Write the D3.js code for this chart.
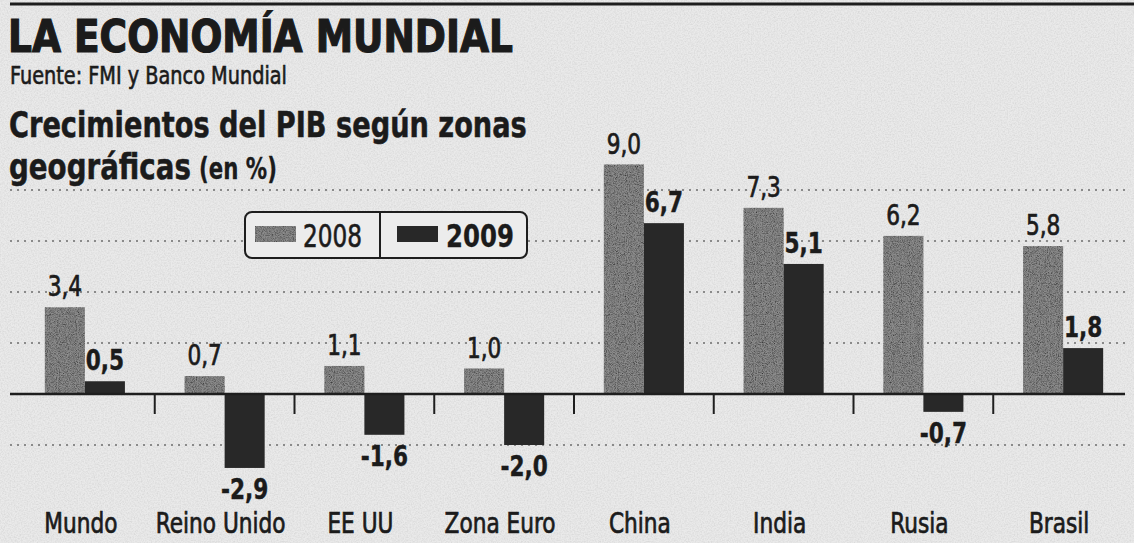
<!DOCTYPE html>
<html>
<head>
<meta charset="utf-8">
<script src="https://cdn.jsdelivr.net/npm/d3@7/dist/d3.min.js"></script>
<style>
  html, body { margin: 0; padding: 0; background: #e9e9e9; }
  svg { display: block; }
  text { font-family: "DejaVu Sans Condensed", "DejaVu Sans", sans-serif; font-stretch: condensed; fill: #1b1b1b; }
</style>
</head>
<body>
<svg id="chart" width="1134" height="543"></svg>
<script>
// ---- data ----
const categories = ["Mundo", "Reino Unido", "EE UU", "Zona Euro", "China", "India", "Rusia", "Brasil"];
const series = ["2008", "2009"];
const values2008 = [3.4, 0.7, 1.1, 1.0, 9.0, 7.3, 6.2, 5.8];
const values2009 = [0.5, -2.9, -1.6, -2.0, 6.7, 5.1, -0.7, 1.8];
const gridValues = [-2, 2, 4, 6, 8];
const titleText = "LA ECONOMÍA MUNDIAL";
const sourceText = "Fuente: FMI y Banco Mundial";
const subtitleLine1 = "Crecimientos del PIB según zonas";
const subtitleLine2a = "geográficas";
const subtitleLine2b = "(en %)";

const W = 1134, H = 543;
const svg = d3.select("#chart");
const defs = svg.append("defs");

// paper grain
const paper = defs.append("filter").attr("id", "paper").attr("x", 0).attr("y", 0).attr("width", "100%").attr("height", "100%");
paper.append("feTurbulence").attr("type", "fractalNoise").attr("baseFrequency", 0.7).attr("numOctaves", 2).attr("seed", 5).attr("result", "n");
paper.append("feColorMatrix").attr("in", "n").attr("type", "matrix")
  .attr("values", "0 0 0 0 0.35  0 0 0 0 0.35  0 0 0 0 0.35  0 0 0 0.9 -0.32");

// bar grain (dither look)
const grain = defs.append("filter").attr("id", "grain").attr("x", 0).attr("y", 0).attr("width", "100%").attr("height", "100%");
grain.append("feTurbulence").attr("type", "fractalNoise").attr("baseFrequency", 1.1).attr("numOctaves", 2).attr("seed", 2).attr("result", "n");
grain.append("feColorMatrix").attr("in", "n").attr("type", "matrix")
  .attr("values", "0 0 0 0 0  0 0 0 0 0  0 0 0 0 0  0 0 0 1.6 -0.55").attr("result", "d");
grain.append("feComposite").attr("in", "d").attr("in2", "SourceGraphic").attr("operator", "in").attr("result", "dc");
const gm = grain.append("feMerge");
gm.append("feMergeNode").attr("in", "SourceGraphic");
gm.append("feMergeNode").attr("in", "dc");

svg.append("rect").attr("width", W).attr("height", H).attr("fill", "#eaeaea");
svg.append("rect").attr("width", W).attr("height", H).attr("fill", "#eaeaea").attr("filter", "url(#paper)").attr("opacity", 0.5);

// ---- scales ----
const x0 = d3.scaleBand().domain(categories).range([15, 1133]).paddingInner(0.427).paddingOuter(0.2135);
const x1 = d3.scaleBand().domain(series).range([0, x0.bandwidth()]);
const y = d3.scaleLinear().domain([-4, 10]).range([496, 139]);
const locale = d3.formatLocale({ decimal: ",", thousands: ".", grouping: [3], currency: ["", "€"], minus: "-" });
const fmt = locale.format(".1f");
const colors = { "2008": "#8c8c8c", "2009": "#282828" };
const CX = 0.86; // horizontal condensation of the newspaper face
const INK = "#1b1b1b";

// helper: squeeze a left-anchored text to a target width with a real transform
function fitText(sel, x, yy, width) {
  const natural = sel.node().getComputedTextLength();
  const k = width / natural;
  sel.attr("x", 0).attr("y", 0).attr("transform", `translate(${x},${yy}) scale(${k},1)`);
  return sel;
}

// ---- top rule ----
svg.append("line").attr("x1", 10).attr("x2", W).attr("y1", 4).attr("y2", 4)
  .attr("stroke", "#1e1e1e").attr("stroke-width", 3);

// ---- titles ----
fitText(svg.append("text").attr("font-size", 45).attr("font-weight", 700)
  .attr("stroke", INK).attr("stroke-width", 1.2).text(titleText), 8, 52, 505);
fitText(svg.append("text").attr("font-size", 24)
  .attr("stroke", INK).attr("stroke-width", 0.6).text(sourceText), 10, 84, 277);
fitText(svg.append("text").attr("font-size", 36).attr("font-weight", 700)
  .attr("stroke", INK).attr("stroke-width", 0.5).text(subtitleLine1), 9, 137, 518);
fitText(svg.append("text").attr("font-size", 36).attr("font-weight", 700)
  .attr("stroke", INK).attr("stroke-width", 0.5).text(subtitleLine2a), 9, 179, 182);
fitText(svg.append("text").attr("font-size", 30).attr("font-weight", 700)
  .attr("stroke", INK).attr("stroke-width", 0.3).text(subtitleLine2b), 199, 179, 78);

// ---- gridlines ----
svg.append("g").selectAll("line").data(gridValues).join("line")
  .attr("x1", 10).attr("x2", 1130)
  .attr("y1", d => y(d)).attr("y2", d => y(d))
  .attr("stroke", "#8a8a8a").attr("stroke-width", 1.8).attr("stroke-dasharray", "2,5");

// ---- legend ----
const lg = svg.append("g");
lg.append("rect").attr("x", 245).attr("y", 212).attr("width", 282).attr("height", 46).attr("rx", 7)
  .attr("fill", "#ececec").attr("stroke", "#1e1e1e").attr("stroke-width", 2);
lg.append("line").attr("x1", 380).attr("x2", 380).attr("y1", 212).attr("y2", 258)
  .attr("stroke", "#1e1e1e").attr("stroke-width", 2);
const legendItems = [
  { s: series[0], sx: 255, tx: 303, w: 400, tw: 59 },
  { s: series[1], sx: 397, tx: 446, w: 700, tw: 68 }
];
legendItems.forEach(it => {
  lg.append("rect").attr("x", it.sx).attr("y", 226).attr("width", 41).attr("height", 16)
    .attr("fill", colors[it.s]).attr("filter", it.s === "2008" ? "url(#grain)" : null);
  fitText(lg.append("text").attr("font-size", 32).attr("font-weight", it.w)
    .attr("stroke", INK).attr("stroke-width", it.w === 400 ? 0.6 : 0.3).text(it.s), it.tx, 247, it.tw);
});

// ---- bars ----
const rows = categories.map((c, i) => ({ c, vals: [
  { s: series[0], v: values2008[i] },
  { s: series[1], v: values2009[i] }
]}));

const groups = svg.append("g").selectAll("g").data(rows).join("g")
  .attr("transform", d => `translate(${x0(d.c)},0)`);

groups.selectAll("rect").data(d => d.vals).join("rect")
  .attr("x", d => x1(d.s))
  .attr("width", x1.bandwidth())
  .attr("y", d => Math.min(y(d.v), y(0)))
  .attr("height", d => Math.abs(y(d.v) - y(0)))
  .attr("fill", d => colors[d.s])
  .attr("filter", d => d.s === "2008" ? "url(#grain)" : null);

groups.selectAll("text.val").data(d => d.vals).join("text")
  .attr("class", "val")
  .attr("transform", d => {
    const cx = x1(d.s) + x1.bandwidth() / 2;
    const ty = d.v >= 0 ? y(d.v) - 11 : y(d.v) + 31;
    return `translate(${cx},${ty}) scale(${CX},1)`;
  })
  .attr("text-anchor", "middle")
  .attr("font-size", 28)
  .attr("font-weight", d => d.s === "2009" ? 700 : 400)
  .attr("stroke", INK)
  .attr("stroke-width", d => d.s === "2009" ? 0.4 : 0.7)
  .text(d => fmt(d.v));

// ---- baseline & separators ----
svg.append("line").attr("x1", 10).attr("x2", 1125).attr("y1", y(0)).attr("y2", y(0))
  .attr("stroke", "#1e1e1e").attr("stroke-width", 2.5);

const gap = x0.step() * x0.paddingInner();
svg.append("g").selectAll("line").data(categories.slice(1)).join("line")
  .attr("x1", d => x0(d) - gap / 2).attr("x2", d => x0(d) - gap / 2)
  .attr("y1", y(0)).attr("y2", y(0) + 20)
  .attr("stroke", "#1e1e1e").attr("stroke-width", 2);

// ---- category labels ----
svg.append("g").selectAll("text").data(categories).join("text")
  .attr("transform", d => `translate(${x0(d) + x0.bandwidth() / 2 - 4},533) scale(${CX},1)`)
  .attr("text-anchor", "middle")
  .attr("font-size", 28)
  .attr("stroke", INK).attr("stroke-width", 0.7)
  .text(d => d);
</script>
</body>
</html>
